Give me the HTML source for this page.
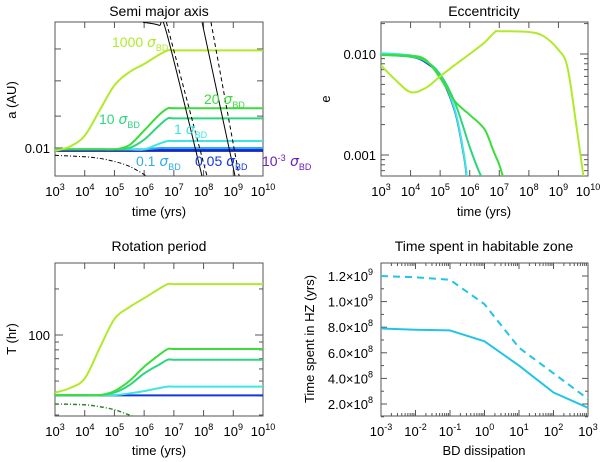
<!DOCTYPE html>
<html><head><meta charset="utf-8"><style>
body{margin:0;background:#fff}
svg{display:block;font-family:"Liberation Sans",sans-serif}
</style></head><body>
<svg id="c" width="600" height="462" viewBox="0 0 600 462"></svg>
<script>
// ---- data ----
const tGridA=[3,3.5,4,4.5,5,5.5,6,6.5,6.8,7,8,9,10];
const aS1000=[0.0098,0.0101,0.0109,0.0130,0.0155,0.0170,0.0180,0.0192,0.0198,0.0198,0.0198,0.0198,0.0198];
const aS20=[0.0099,0.0099,0.0099,0.0099,0.0099,0.0102,0.0113,0.0126,0.0132,0.0132,0.0132,0.0132,0.0132];
const aS10=[0.0099,0.0099,0.0099,0.0099,0.0099,0.0100,0.0106,0.0117,0.0123,0.0123,0.0123,0.0123,0.0123];
const aS1=[0.0099,0.0099,0.0099,0.0099,0.0099,0.0099,0.0099,0.0103,0.0105,0.0105,0.0105,0.0105,0.0105];
const aS01=[0.0099,0.0099,0.0099,0.0099,0.0099,0.0099,0.0099,0.0100,0.0100,0.0100,0.0100,0.0100,0.0100];
const aS005=[0.0099,0.0099,0.0099,0.0099,0.0099,0.0099,0.0099,0.0099,0.0099,0.0099,0.0099,0.0099,0.0099];
const aS0001=[0.0098,0.0098,0.0098,0.0098,0.0098,0.0098,0.0098,0.0098,0.0098,0.0098,0.0098,0.0098,0.0098];
const aDashDotT=[3,4,4.5,5,5.5,6,6.2];
const aDashDot=[0.0095,0.0094,0.0093,0.0091,0.0088,0.0083,0.0080];
const hzSolid1T=[5.96,6.5,6.75,7.95], hzSolid1A=[0.0241,0.0236,0.0225,0.0082];
const hzDash1T=[6.75,8.12], hzDash1A=[0.0241,0.0082];
const hzSolid2T=[7.95,9.06], hzSolid2A=[0.0241,0.0082];
const hzDash2T=[8.25,9.2], hzDash2A=[0.0241,0.0082];

const eT1000=[3,3.5,4,4.5,5,5.5,6,6.5,6.85,7,8,8.5,9,9.3,9.6,9.85];
const eS1000=[0.0077,0.0055,0.0042,0.0046,0.006,0.0078,0.0100,0.013,0.0165,0.0168,0.0165,0.015,0.011,0.0075,0.002,0.0006];
const eT20=[3,4,4.5,5,5.5,6,6.5,6.8,7,7.13];
const eS20=[0.0098,0.0096,0.0088,0.0058,0.0034,0.0025,0.0018,0.0011,0.0008,0.0006];
const eT10=[3,4,4.5,5,5.5,6,6.3,6.42];
const eS10=[0.0098,0.0094,0.0085,0.0063,0.0033,0.0012,0.0007,0.0006];
const eTlow=[3,4,4.5,5,5.5,5.8,5.9];
const eSlow=[0.0099,0.0094,0.0083,0.0060,0.0027,0.0010,0.0006];

const tS1000=[42,45,52,82,127,152,174,200,215,215,215,215,215];
const tS20=[40.5,40.5,40.5,40.5,43,50,62,74,81,81,81,81,81];
const tS10=[40.5,40.5,40.5,40.5,42,47,56,64,69,69,69,69,69];
const tS1=[40.5,40.5,40.5,40.5,40.5,41.5,43,45,46,46,46,46,46];
const tBase=[40.3,40.3,40.3,40.3,40.3,40.3,40.3,40.3,40.3,40.3,40.3,40.3,40.3];
const tDashT=[3,4,4.5,5,5.5,5.7];
const tDash=[35.4,35,34,32.5,30,29];

const hzX=[-3,-2,-1,0,1,2,3];
const hzSolid=[7.9e8,7.8e8,7.75e8,6.9e8,5.0e8,2.9e8,1.7e8];
const hzDashed=[1.2e9,1.19e9,1.17e9,9.8e8,6.4e8,4.4e8,2.4e8];
const hzYTicks=[2e8,4e8,6e8,8e8,1.0e9,1.2e9];
const hzYLabels=["2.0","4.0","6.0","8.0","1.0","1.2"];
const hzYExp=["8","8","8","8","9","9"];

const C={s1000:"#b0ea2a",s20:"#3cdc3c",s10:"#2cd67e",s1:"#3ee6e0",s01:"#2eaaf0",s005:"#1038e0",s0001:"#1a22b0"};
const NS="http://www.w3.org/2000/svg";
const svg=document.getElementById('c');
function el(tag,attrs,parent){const e=document.createElementNS(NS,tag);for(const k in attrs)e.setAttribute(k,attrs[k]);(parent||svg).appendChild(e);return e;}
function txt(x,y,s,size,anchor,parent){const t=el('text',{x:x,y:y,'font-size':size,'text-anchor':anchor||'middle',fill:'#000'},parent);t.textContent=s;return t;}

function panel(x0,y0,x1,y1,name){
  const g=el('g',{});
  
  
  const r=el('rect',{x:x0,y:y0,width:x1-x0,height:y1-y0,fill:'none',stroke:'#555','stroke-width':1},g);
  
  
  return g;
}
function logAxisX(g,x0,x1,y0,y1,lo,hi,name){
  const d=(x1-x0)/(hi-lo);
  for(let p=lo;p<=hi;p++){
    const x=x0+(p-lo)*d;
    el('line',{x1:x,y1:y1,x2:x,y2:y1-6,stroke:'#555'},g);
    el('line',{x1:x,y1:y0,x2:x,y2:y0+6,stroke:'#555'},g);
    const t=el('text',{x:x,y:y1+20,'font-size':13,'text-anchor':'middle'},g);
    
    
    const ts1=el('tspan',{},t);ts1.textContent='10';
    const ts2=el('tspan',{dy:-6,'font-size':9},t);ts2.textContent=String(p);
  }
}
function smoothPath(pts){
  let d='M'+pts[0][0].toFixed(1)+','+pts[0][1].toFixed(1);
  for(let i=0;i<pts.length-1;i++){
    const p0=pts[Math.max(0,i-1)],p1=pts[i],p2=pts[i+1],p3=pts[Math.min(pts.length-1,i+2)];
    const c1=[p1[0]+(p2[0]-p0[0])/6,p1[1]+(p2[1]-p0[1])/6];
    const c2=[p2[0]-(p3[0]-p1[0])/6,p2[1]-(p3[1]-p1[1])/6];
    d+=' C'+c1[0].toFixed(1)+','+c1[1].toFixed(1)+' '+c2[0].toFixed(1)+','+c2[1].toFixed(1)+' '+p2[0].toFixed(1)+','+p2[1].toFixed(1);
  }
  return d;
}
function poly(g,pts,color,w,dash,name,straight){
  const d=straight?'M'+pts.map(q=>q[0].toFixed(1)+','+q[1].toFixed(1)).join(' L'):smoothPath(pts);
  const p=el('path',{d:d,fill:'none',stroke:color,'stroke-width':w,'stroke-linejoin':'round'},g);
  if(dash)p.setAttribute('stroke-dasharray',dash);
  
  
  return p;
}
function clipRect(id,x0,y0,x1,y1){const cp=el('clipPath',{id:id});el('rect',{x:x0,y:y0,width:x1-x0,height:y1-y0},cp);}

// ---- Panel 1: semi-major axis ----
(function(){
  const X0=55,X1=263,Y0=22,Y1=176;
  const sx=l=>X0+(l-3)*(X1-X0)/7;
  const sy=a=>148-(Math.log10(a)+2)*329;
  clipRect('cp1',X0,Y0,X1,Y1);
  const g=panel(X0,Y0,X1,Y1,'semi-major-axis-panel');
  logAxisX(g,X0,X1,Y0,Y1,3,10,'a-x');
  [0.0125,0.016,0.02].forEach(v=>{el('line',{x1:X0,y1:sy(v),x2:X0+6,y2:sy(v),stroke:'#555'},g);el('line',{x1:X1,y1:sy(v),x2:X1-6,y2:sy(v),stroke:'#555'},g);});
  el('line',{x1:X0,y1:sy(0.01),x2:X0+8,y2:sy(0.01),stroke:'#555'},g);
  txt(50,sy(0.01)+5,'0.01',13,'end',g);
  const title=txt(159,16,'Semi major axis',14,'middle',g);
  
  const xl=txt(159,216,'time (yrs)',13,'middle',g);
  
  const yl=txt(0,0,'a (AU)',13,'middle',g);yl.setAttribute('transform','translate(16,100) rotate(-90)');
  
  const cg=el('g',{'clip-path':'url(#cp1)'},g);
  const ser=[[aS0001,C.s0001,'a-series-1e-3'],[aS005,C.s005,'a-series-0.05'],[aS01,C.s01,'a-series-0.1'],[aS1,C.s1,'a-series-1'],[aS10,C.s10,'a-series-10'],[aS20,C.s20,'a-series-20'],[aS1000,C.s1000,'a-series-1000']];
  ser.forEach(s=>poly(cg,tGridA.map((t,i)=>[sx(t),sy(s[0][i])]),s[1],2,null,s[2]));
  poly(cg,aDashDotT.map((t,i)=>[sx(t),sy(aDashDot[i])]),'#000',1,'4,2,1,2','a-dashdot-line');
  poly(cg,hzSolid1T.map((t,i)=>[sx(t),sy(hzSolid1A[i])]),'#000',1,null,'hz-inner-solid-1');
  poly(cg,hzDash1T.map((t,i)=>[sx(t),sy(hzDash1A[i])]),'#000',1,'4,3','hz-inner-dashed-1',true);
  poly(cg,hzSolid2T.map((t,i)=>[sx(t),sy(hzSolid2A[i])]),'#000',1,null,'hz-outer-solid-2',true);
  poly(cg,hzDash2T.map((t,i)=>[sx(t),sy(hzDash2A[i])]),'#000',1,'4,3','hz-outer-dashed-2',true);
  function lab(x,y,num,col,name){
    const t=el('text',{x:x,y:y,'font-size':14,fill:col},svg);
    
    const a=el('tspan',{},t);a.textContent=num+' ';
    const b=el('tspan',{'font-family':'DejaVu Sans, sans-serif','font-style':'italic'},t);b.textContent='σ';
    const c=el('tspan',{dy:4,'font-size':9},t);c.textContent='BD';
  }
  lab(112,47,'1000',C.s1000,'label-1000');
  lab(204,104,'20',C.s20,'label-20');
  lab(99,124,'10',C.s10,'label-10');
  lab(174,134,'1',C.s1,'label-1');
  lab(136,166,'0.1',C.s01,'label-0.1');
  const t=el('text',{x:262,y:166,'font-size':14,fill:'#6a20c0'},svg);
  
  const a1=el('tspan',{},t);a1.textContent='10';
  const a2=el('tspan',{dy:-5,'font-size':9},t);a2.textContent='-3';
  const a3=el('tspan',{dy:5,'font-family':'DejaVu Sans, sans-serif','font-style':'italic'},t);a3.textContent=' σ';
  const a4=el('tspan',{dy:4,'font-size':9},t);a4.textContent='BD';
  lab(195,166,'0.05',C.s005,'label-0.05');
})();

// ---- Panel 2: eccentricity ----
(function(){
  const X0=381,X1=588,Y0=22,Y1=176;
  const sx=l=>X0+(l-3)*(X1-X0)/7;
  const sy=e=>54-(Math.log10(e)+2)*101;
  clipRect('cp2',X0,Y0,X1,Y1);
  const g=panel(X0,Y0,X1,Y1,'eccentricity-panel');
  logAxisX(g,X0,X1,Y0,Y1,3,10,'e-x');
  [0.001,0.01].forEach(v=>{el('line',{x1:X0,y1:sy(v),x2:X0+8,y2:sy(v),stroke:'#555'},g);el('line',{x1:X1,y1:sy(v),x2:X1-8,y2:sy(v),stroke:'#555'},g);});
  [0.0007,0.0008,0.0009,0.002,0.003,0.004,0.005,0.006,0.007,0.008,0.009,0.02].forEach(v=>{el('line',{x1:X0,y1:sy(v),x2:X0+4,y2:sy(v),stroke:'#555'},g);el('line',{x1:X1,y1:sy(v),x2:X1-4,y2:sy(v),stroke:'#555'},g);});
  txt(376,sy(0.01)+5,'0.010',13,'end',g);
  txt(376,sy(0.001)+5,'0.001',13,'end',g);
  const title=txt(484,16,'Eccentricity',14,'middle',g);
  
  const xl=txt(484,216,'time (yrs)',13,'middle',g);
  
  const yl=txt(0,0,'e',13,'middle',g);yl.setAttribute('transform','translate(330,99) rotate(-90)');
  
  const cg=el('g',{'clip-path':'url(#cp2)'},g);
  poly(cg,eTlow.map((t,i)=>[sx(t),sy(eSlow[i])]),C.s005,2,null,'e-series-low-blue');
  poly(cg,eTlow.map((t,i)=>[sx(t),sy(eSlow[i]*1.03)]),C.s1,2,null,'e-series-low-cyan');
  poly(cg,eT10.map((t,i)=>[sx(t),sy(eS10[i])]),C.s10,2,null,'e-series-10');
  poly(cg,eT20.map((t,i)=>[sx(t),sy(eS20[i])]),C.s20,2,null,'e-series-20');
  poly(cg,eT1000.map((t,i)=>[sx(t),sy(eS1000[i])]),C.s1000,2,null,'e-series-1000');
})();

// ---- Panel 3: rotation period ----
(function(){
  const X0=55,X1=263,Y0=263,Y1=416;
  const sx=l=>X0+(l-3)*(X1-X0)/7;
  const sy=T=>335-(Math.log10(T)-2)*153;
  clipRect('cp3',X0,Y0,X1,Y1);
  const g=panel(X0,Y0,X1,Y1,'rotation-period-panel');
  logAxisX(g,X0,X1,Y0,Y1,3,10,'T-x');
  el('line',{x1:X0,y1:sy(100),x2:X0+8,y2:sy(100),stroke:'#555'},g);el('line',{x1:X1,y1:sy(100),x2:X1-8,y2:sy(100),stroke:'#555'},g);
  [30,40,50,60,70,80,90,200].forEach(v=>{el('line',{x1:X0,y1:sy(v),x2:X0+4,y2:sy(v),stroke:'#555'},g);el('line',{x1:X1,y1:sy(v),x2:X1-4,y2:sy(v),stroke:'#555'},g);});
  txt(50,sy(100)+5,'100',13,'end',g);
  const title=txt(159,251,'Rotation period',14,'middle',g);
  
  const xl=txt(159,455,'time (yrs)',13,'middle',g);
  
  const yl=txt(0,0,'T (hr)',13,'middle',g);yl.setAttribute('transform','translate(16,339) rotate(-90)');
  
  const cg=el('g',{'clip-path':'url(#cp3)'},g);
  poly(cg,tGridA.map((t,i)=>[sx(t),sy(tBase[i])]),C.s005,2,null,'T-series-low');
  poly(cg,tGridA.map((t,i)=>[sx(t),sy(tS1[i])]),C.s1,2,null,'T-series-1');
  poly(cg,tGridA.map((t,i)=>[sx(t),sy(tS10[i])]),C.s10,2,null,'T-series-10');
  poly(cg,tGridA.map((t,i)=>[sx(t),sy(tS20[i])]),C.s20,2,null,'T-series-20');
  poly(cg,tGridA.map((t,i)=>[sx(t),sy(tS1000[i])]),C.s1000,2,null,'T-series-1000');
  poly(cg,tDashT.map((t,i)=>[sx(t),sy(tDash[i])]),'#2a8a2a',1.5,'4,2,1,2','T-dashdot-line');
})();

// ---- Panel 4: time in HZ ----
(function(){
  const X0=381,X1=588,Y0=263,Y1=416;
  const sx=l=>X0+(l+3)*(X1-X0)/6;
  const sy2=v=>276+(1.2e9-v)/1e8*12.8;
  const g=panel(X0,Y0,X1,Y1,'habitable-zone-panel');
  for(let p=-3;p<=3;p++){
    const x=sx(p);
    el('line',{x1:x,y1:Y1,x2:x,y2:Y1-6,stroke:'#555'},g);el('line',{x1:x,y1:Y0,x2:x,y2:Y0+6,stroke:'#555'},g);
    for(let k=2;k<10&&p<3;k++){const xm=sx(p+Math.log10(k));el('line',{x1:xm,y1:Y1,x2:xm,y2:Y1-3,stroke:'#555'},g);el('line',{x1:xm,y1:Y0,x2:xm,y2:Y0+3,stroke:'#555'},g);}
    const t=el('text',{x:x,y:Y1+20,'font-size':13,'text-anchor':'middle'},g);
    
    const a=el('tspan',{},t);a.textContent='10';
    const b=el('tspan',{dy:-6,'font-size':9},t);b.textContent=String(p);
  }
  hzYTicks.forEach((v,i)=>{
    const y=sy2(v);
    el('line',{x1:X0,y1:y,x2:X0+6,y2:y,stroke:'#555'},g);el('line',{x1:X1,y1:y,x2:X1-6,y2:y,stroke:'#555'},g);
    const ym=sy2(v-1e8);
    el('line',{x1:X0,y1:ym,x2:X0+3,y2:ym,stroke:'#555'},g);el('line',{x1:X1,y1:ym,x2:X1-3,y2:ym,stroke:'#555'},g);
    const t=el('text',{x:373,y:y+5,'font-size':13,'text-anchor':'end'},g);
    
    const a=el('tspan',{},t);a.textContent=hzYLabels[i]+'×10';
    const b=el('tspan',{dy:-6,'font-size':9},t);b.textContent=hzYExp[i];
  });
  const title=txt(484,251,'Time spent in habitable zone',14,'middle',g);
  
  const xl=txt(484,455,'BD dissipation',13,'middle',g);
  
  const yl=txt(0,0,'Time spent in HZ (yrs)',13,'middle',g);yl.setAttribute('transform','translate(314,339) rotate(-90)');
  
  poly(g,hzX.map((x,i)=>[sx(x),sy2(hzDashed[i])]),'#22c4e6',2,'7,5','hz-dashed-series',true);
  poly(g,hzX.map((x,i)=>[sx(x),sy2(hzSolid[i])]),'#22c4e6',2,null,'hz-solid-series',true);
})();
</script>
</body></html>
